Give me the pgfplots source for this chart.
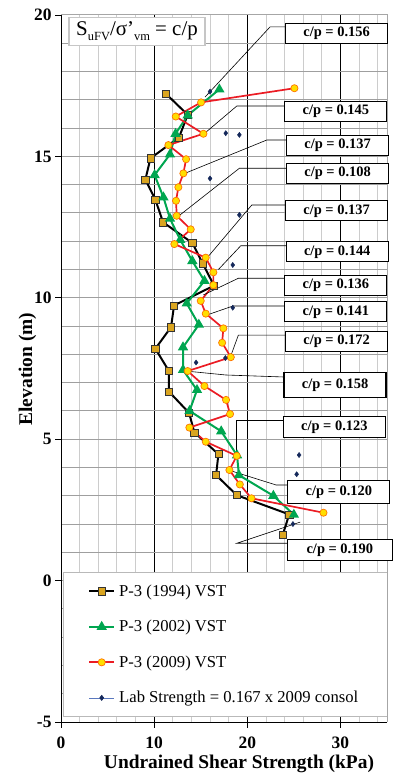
\documentclass[border=0pt]{standalone}
\usepackage{fontspec}
\setmainfont{Liberation Serif}
\usepackage{pgfplots}
\pgfplotsset{compat=1.18}
\definecolor{sqfill}{RGB}{218,165,32}
\definecolor{grn}{RGB}{0,166,80}
\definecolor{rd}{RGB}{235,28,36}
\definecolor{ylw}{RGB}{255,222,0}
\definecolor{navy}{RGB}{20,40,90}
\definecolor{labline}{RGB}{90,120,190}
\begin{document}
\begin{tikzpicture}[x=1bp,y=1bp]
\useasboundingbox (0,0) rectangle (398,776);
\begin{axis}[
  at={(61bp,54bp)}, anchor=south west,
  scale only axis, width=326bp, height=707bp,
  xmin=0, xmax=35, ymin=-5, ymax=20,
  axis x line*=bottom, axis y line*=left,
  xtick={0,10,20,30}, minor xtick={2,4,...,34},
  ytick={-5,0,...,20}, minor ytick={-4,...,19},
  xmajorgrids, xminorgrids, ymajorgrids, yminorgrids,
  major x grid style={black, line width=0.9pt},
  minor x grid style={gray!40, line width=0.8pt},
  major y grid style={gray!75, line width=1pt},
  minor y grid style={gray!75, line width=1pt},
  tick align=outside, major tick length=6bp, minor tick length=0pt,
  tick style={black, line width=0.8pt},
  axis line style={black, line width=1pt},
  ticklabel style={font=\fontsize{17.5}{20}\selectfont\bfseries},
  /pgf/number format/assume math mode=true,
  xticklabel style={yshift=-5bp},
  clip=false,
  legend cell align=left,
  legend image code/.code={\draw[mark repeat=2,mark phase=2,#1] plot coordinates {(0bp,0bp)(12.5bp,0bp)(25bp,0bp)};},
  legend style={at={(axis cs:2.9,-0.07)}, anchor=north west, draw=none, fill=none,
    inner sep=0pt, row sep=18.5bp, font=\fontsize{16.7}{18}\selectfont,
    /tikz/every odd column/.append style={column sep=2bp}},
]
\fill[white] (axis cs:0.215,0.30) rectangle (axis cs:35,-4.82);
\draw[gray!55, line width=1pt] (axis cs:0.215,0.30) rectangle (axis cs:35,-4.82);
\draw[gray!70, line width=1pt] (rel axis cs:0,1) -- (rel axis cs:1,1) -- (rel axis cs:1,0);

\addplot[black, line width=2pt, mark=square*, mark size=3.6bp,
  mark options={fill=sqfill, draw=black!80, line width=0.6pt, solid}] coordinates {
(11.28,17.21) (13.6,16.47) (12.67,15.67) (9.6,14.93) (9.06,14.18) (10.13,13.47)
(10.96,12.67) (14.1,11.94) (15.2,11.22) (16.43,10.43) (12.14,9.73) (11.81,8.96)
(10.13,8.2) (11.57,7.42) (11.57,6.69) (13.75,5.93) (14.32,5.24) (16.9,4.47)
(16.65,3.73) (18.87,3.02) (24.5,2.34) (23.8,1.61)};
\addlegendentry{P-3 (1994) VST}

\addplot[grn, line width=2pt, mark=triangle*, mark size=4bp,
  mark options={fill=grn, draw=grn, solid}] coordinates {
(17.0,17.37) (13.6,16.45) (12.3,15.8) (11.7,15.07) (10.05,14.34) (11.0,13.55)
(11.7,12.8) (12.8,12.05) (14.1,11.3) (15.4,10.6) (13.5,9.8) (14.8,9.05)
(13.1,8.25) (13.1,7.45) (14.6,6.74) (13.8,6.0) (17.2,5.28) (18.9,4.43)
(19.1,3.73) (22.8,3.0) (25.0,2.33)};
\addlegendentry{P-3 (2002) VST}

\addplot[rd, line width=1.7pt, mark=*, mark size=3.6bp,
  mark options={fill=ylw, draw=orange!90!red, line width=0.7pt, solid}] coordinates {
(25.06,17.41) (15.04,16.91) (12.32,16.41) (15.29,15.8) (11.53,15.4) (13.43,14.9)
(13.14,14.4) (12.6,13.91) (12.35,13.43) (12.42,12.9) (13.93,12.42) (12.17,11.9)
(15.54,11.42) (16.36,10.9) (16.36,10.45) (15.0,9.89) (15.54,9.44) (17.43,8.92)
(17.3,8.41) (18.23,7.9) (13.6,7.41) (15.4,6.88) (17.72,6.39) (18.15,5.89)
(13.78,5.41) (15.54,4.91) (18.87,4.41) (18.08,3.91) (19.2,3.40) (20.45,2.91)
(28.18,2.40)};
\addlegendentry{P-3 (2009) VST}

\addplot[only marks, navy, mark=diamond*, mark size=2.6bp, forget plot] coordinates {
(16.0,17.29) (17.69,15.82) (19.15,15.76) (16.0,14.22) (19.15,12.93) (18.44,11.16)
(18.44,9.65) (17.65,7.87) (14.5,7.71) (25.56,4.44) (25.3,3.76) (24.9,2.0)};
\addlegendimage{labline, line width=0.6pt, mark=diamond*, mark size=2.6bp, mark options={fill=navy, draw=navy, solid}}
\addlegendentry{Lab Strength = 0.167 x 2009 consol}

% title box
\node[draw=gray!45, line width=1.2pt, fill=white, minimum width=136bp, minimum height=28bp, inner sep=0pt,
  font=\fontsize{21}{24}\selectfont] at (axis cs:8.16,19.43)
  {S\raisebox{-0.25em}{\fontsize{12.5}{14}\selectfont uFV}/σ'\raisebox{-0.25em}{\fontsize{12.5}{14}\selectfont vm} = c/p};

% leaders
\draw[black, line width=0.6pt] (axis cs:24.06,19.58) -- (axis cs:22.45,19.58) -- (axis cs:15.47,17.1);
\draw[black, line width=0.6pt] (axis cs:23.99,16.78) -- (axis cs:18.87,16.78) -- (axis cs:15.47,15.83);
\draw[black, line width=0.6pt] (axis cs:24.17,15.58) -- (axis cs:22.1,15.58) -- (axis cs:13.3,14.4);
\draw[black, line width=0.6pt] (axis cs:24.17,14.58) -- (axis cs:19.15,14.58) -- (axis cs:12.78,12.93);
\draw[black, line width=0.6pt] (axis cs:24.06,13.28) -- (axis cs:20.48,13.28) -- (axis cs:15.65,11.4);
\draw[black, line width=0.6pt] (axis cs:24.13,11.84) -- (axis cs:19.3,11.84) -- (axis cs:16.9,11.0);
\draw[black, line width=0.6pt] (axis cs:23.99,10.69) -- (axis cs:19.04,10.69) -- (axis cs:15.28,10.1);
\draw[black, line width=0.6pt] (axis cs:23.99,9.71) -- (axis cs:18.47,9.71) -- (axis cs:15.65,9.39);
\draw[black, line width=0.6pt] (axis cs:24.06,8.68) -- (axis cs:19.04,8.68) -- (axis cs:18.2,7.92);
\draw[black, line width=0.6pt] (axis cs:23.88,7.2) -- (axis cs:17.7,7.27) -- (axis cs:13.7,7.4);
\draw[black, line width=0.6pt] (axis cs:23.82,5.68) -- (axis cs:18.8,5.68) -- (axis cs:18.8,4.5);
\draw[black, line width=0.6pt] (axis cs:24.31,3.38) -- (axis cs:23.1,3.38) -- (axis cs:18.26,3.88);
\draw[black, line width=0.6pt] (axis cs:24.24,1.32) -- (axis cs:18.87,1.32) -- (axis cs:25.7,2.07);

% callout boxes
\tikzset{cpbox/.style={draw=black, line width=1pt, fill=white, minimum width=102bp, minimum height=20bp,
  inner sep=0pt, anchor=west, font=\fontsize{14.5}{16}\selectfont\bfseries}}
\node[cpbox] at (axis cs:24.06,19.36) {c/p = 0.156};
\node[cpbox] at (axis cs:23.99,16.58) {c/p = 0.145};
\node[cpbox] at (axis cs:24.17,15.39) {c/p = 0.137};
\node[cpbox] at (axis cs:24.17,14.39) {c/p = 0.108};
\node[cpbox] at (axis cs:24.06,13.07) {c/p = 0.137};
\node[cpbox] at (axis cs:24.13,11.62) {c/p = 0.144};
\node[cpbox] at (axis cs:23.99,10.45) {c/p = 0.136};
\node[cpbox] at (axis cs:23.99,9.50) {c/p = 0.141};
\node[cpbox] at (axis cs:24.06,8.45) {c/p = 0.172};
\node[cpbox, minimum height=25bp, line width=1.4pt] at (axis cs:23.88,6.92) {c/p = 0.158};
\node[cpbox, minimum height=21bp] at (axis cs:23.82,5.43) {c/p = 0.123};
\node[cpbox, minimum height=23bp] at (axis cs:24.31,3.14) {c/p = 0.120};
\node[cpbox, minimum height=21bp, minimum width=105bp] at (axis cs:24.24,1.09) {c/p = 0.190};
\end{axis}
\node[anchor=base, font=\fontsize{19.5}{22}\selectfont\bfseries] at (239,7) {Undrained Shear Strength (kPa)};
\node[rotate=90, anchor=base, font=\fontsize{19.5}{22}\selectfont\bfseries] at (32,407) {Elevation (m)};
\end{tikzpicture}
\end{document}
